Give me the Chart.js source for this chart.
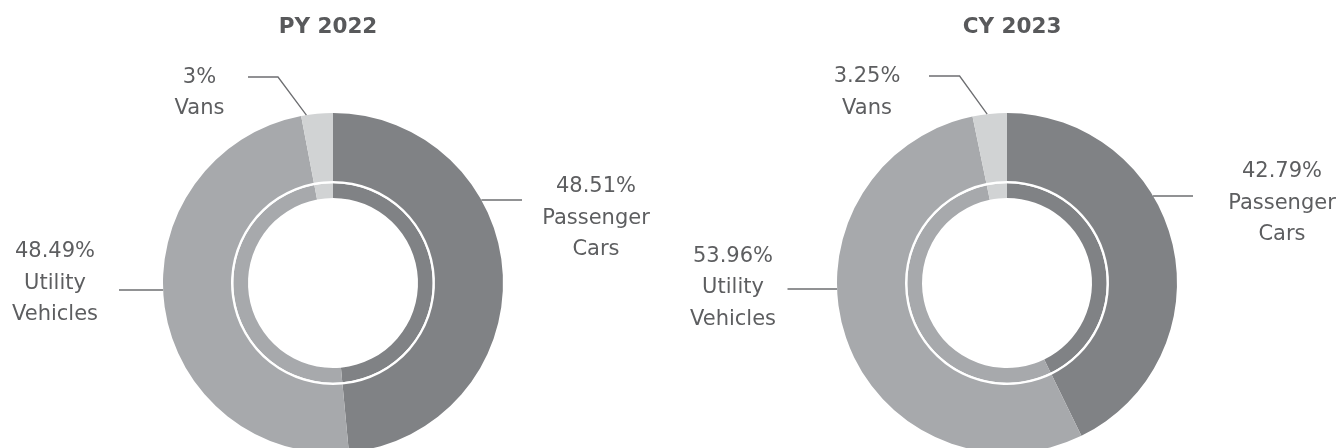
<!DOCTYPE html>
<html>
<head>
<meta charset="utf-8">
<script src="https://cdn.jsdelivr.net/npm/chart.js@4.4.0/dist/chart.umd.min.js"></script>
<style>
  html, body { margin: 0; padding: 0; background: #fff; overflow: hidden; }
  .wrap { position: absolute; top: 0; width: 669px; height: 460px; }
  #left { left: 0; }
  #right { left: 669px; }
</style>
</head>
<body>
<div class="wrap" id="left"><canvas id="pyChart" width="669" height="460"></canvas></div>
<div class="wrap" id="right"><canvas id="cyChart" width="669" height="460"></canvas></div>
<script>
// DATA
const categories = [["Passenger", "Cars"], ["Utility", "Vehicles"], ["Vans"]];
const py2022 = [48.51, 48.49, 3];
const cy2023 = [42.79, 53.96, 3.25];
const colors = ["#808285", "#a7a9ac", "#d1d3d4"];

const FONT = "'DejaVu Sans', Verdana, sans-serif";
const LINE_GAP = 31.5;

// Callout labels + title, drawn around the outer ring
const calloutPlugin = {
  id: "callouts",
  afterDraw(chart, args, opts) {
    const ctx = chart.ctx;
    const meta = chart.getDatasetMeta(0);
    const arc0 = meta.data[0];
    const cx = arc0.x, cy = arc0.y, R = arc0.outerRadius;
    const values = chart.data.datasets[0].data;

    ctx.save();
    ctx.textAlign = "center";
    ctx.textBaseline = "middle";

    // title
    ctx.fillStyle = "#58595b";
    ctx.font = "bold 21.5px " + FONT;
    ctx.fillText(opts.title, cx + opts.titleDx, opts.titleY);

    ctx.strokeStyle = "#6d6e71";
    ctx.lineWidth = 1.3;
    ctx.fillStyle = "#5d5e60";
    ctx.font = "21px " + FONT;

    chart.data.labels.forEach((lab, i) => {
      const spec = opts.layout[i];
      let ax, ay;
      if (spec.angle != null) {
        const a = (spec.angle - 90) * Math.PI / 180;
        ax = cx + R * Math.cos(a);
        ay = cy + R * Math.sin(a);
      } else {
        ay = cy + spec.lineY;
        const dx = Math.sqrt(R * R - spec.lineY * spec.lineY);
        ax = cx + (spec.lineEndX > 0 ? dx : -dx);
      }
      ctx.beginPath();
      ctx.moveTo(ax, ay);
      if (spec.elbow) {
        ctx.lineTo(cx + spec.elbow[0], cy + spec.elbow[1]);
        ctx.lineTo(cx + spec.lineEndX, cy + spec.elbow[1]);
      } else {
        ctx.lineTo(cx + spec.lineEndX, ay);
      }
      ctx.stroke();

      const lines = [values[i] + "%"].concat(lab);
      lines.forEach((t, k) => {
        ctx.fillText(t, cx + spec.text[0], cy + spec.text[1] + k * LINE_GAP);
      });
    });
    ctx.restore();
  }
};

function ring(values, fill, weight) {
  return { data: values, backgroundColor: fill, weight: weight, borderWidth: 0, hoverOffset: 0 };
}

function makeChart(id, values, title, titleDx, padding, layout) {
  return new Chart(document.getElementById(id), {
    type: "doughnut",
    data: {
      labels: categories,
      datasets: [
        ring(values, colors, 68),
        ring([1], ["#ffffff"], 2.3),   // thin white separator
        ring(values, colors, 14.7),
      ],
    },
    options: {
      responsive: false,
      animation: false,
      events: [],
      cutout: "50%",
      layout: { padding: padding },
      plugins: {
        legend: { display: false },
        tooltip: { enabled: false },
        callouts: { title: title, titleDx: titleDx, titleY: 27, layout: layout },
      },
    },
    plugins: [calloutPlugin],
  });
}

makeChart("pyChart", py2022, "PY 2022", -5,
  { left: 163, right: 166, top: 113, bottom: 7 },
  [
    { lineY: -83, lineEndX: 189, text: [263, -96] },
    { lineY: 7, lineEndX: -214, text: [-278, -31.3] },
    { angle: 351, elbow: [-55, -206], lineEndX: -85, text: [-133.5, -205.5] },
  ]);

makeChart("cyChart", cy2023, "CY 2023", 5,
  { left: 168, right: 161, top: 113, bottom: 7 },
  [
    { lineY: -87, lineEndX: 186, text: [275, -111.3] },
    { lineY: 6, lineEndX: -219.5, text: [-274, -26.5] },
    { angle: 353.3, elbow: [-47.4, -207], lineEndX: -78, text: [-140, -206] },
  ]);
</script>
</body>
</html>
